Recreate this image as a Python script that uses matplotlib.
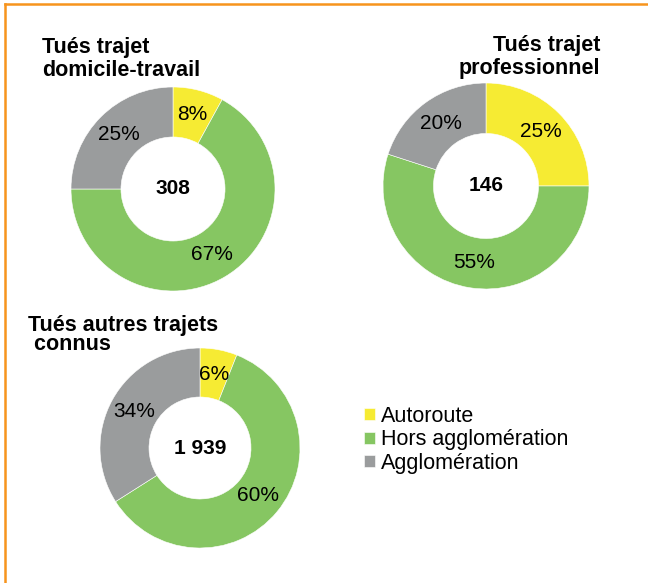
import matplotlib
matplotlib.use('Agg')
import matplotlib.pyplot as plt
from matplotlib.lines import Line2D

plt.rcParams['font.family'] = ['Liberation Sans', 'DejaVu Sans']

# data
categories = ['Autoroute', 'Hors agglomération', 'Agglomération']
colors = ['#F6EB33', '#86C662', '#9A9C9D']
pct_domicile = [8, 67, 25]
pct_pro = [25, 55, 20]
pct_autres = [6, 60, 34]
totals = ['308', '146', '1 939']
titles = ['Tués trajet\ndomicile-travail', 'Tués trajet\nprofessionnel',
          'Tués autres trajets\n connus']

W, H = 648, 583
fig = plt.figure(figsize=(W / 100, H / 100), dpi=100)


def donut(cx, cy, r, vals, total):
    ax = fig.add_axes([(cx - r) / W, (H - cy - r) / H, 2 * r / W, 2 * r / H])
    wedges, texts, autotexts = ax.pie(
        vals, colors=colors, startangle=90, counterclock=False,
        radius=1, autopct='%1.0f%%', pctdistance=0.75,
        wedgeprops=dict(width=0.49, edgecolor='white', linewidth=0.4),
        textprops=dict(fontsize=15, color='black'))
    ax.set_xlim(-1, 1)
    ax.set_ylim(-1, 1)
    ax.text(0, 0, total, ha='center', va='center', fontsize=15,
            fontweight='bold')
    ax.axis('off')
    return wedges


w1 = donut(173, 189, 102, pct_domicile, totals[0])
donut(486, 186, 103, pct_pro, totals[1])
donut(200, 448, 100, pct_autres, totals[2])

# titles (va='baseline' -> baseline of the last line)
fig.text(42 / W, 1 - 76 / H, titles[0], ha='left', va='baseline',
         fontsize=15.5, fontweight='bold', linespacing=1.15)
fig.text(600 / W, 1 - 74 / H, titles[1], ha='right', va='baseline',
         fontsize=15.5, fontweight='bold', linespacing=1.15)
fig.text(28 / W, 1 - 350 / H, titles[2], ha='left', va='baseline',
         fontsize=15.5, fontweight='bold', linespacing=0.85)

fig.legend(w1, categories, loc='upper left',
           bbox_to_anchor=(353 / W, 1 - 395 / H), frameon=False,
           fontsize=15.5, handlelength=0.5, handleheight=0.5,
           handletextpad=0.3, labelspacing=0.12, borderpad=0)

# orange frame (top and left)
fig.add_artist(Line2D([5 / W, 1], [1 - 4 / H, 1 - 4 / H], color='#F7941D',
                      linewidth=1.8, transform=fig.transFigure))
fig.add_artist(Line2D([5 / W, 5 / W], [0, 1 - 4 / H], color='#F7941D',
                      linewidth=1.8, transform=fig.transFigure))

fig.savefig('out.png', dpi=100)
